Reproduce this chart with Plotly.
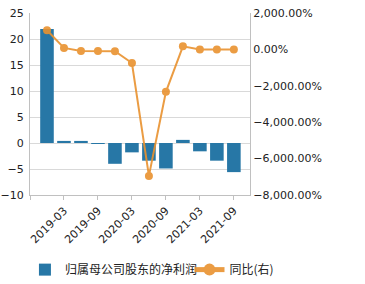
import plotly.graph_objects as go

categories = ["2018-12", "2019-03", "2019-06", "2019-09", "2019-12", "2020-03",
              "2020-06", "2020-09", "2020-12", "2021-03", "2021-06", "2021-09"]
net_profit = [21.9, 0.4, 0.4, -0.1, -4.0, -1.8, -3.4, -4.9, 0.6, -1.6, -3.4, -5.6]
yoy_pct = [1050, 80, -90, -90, -100, -750, -6950, -2330, 170, -10, -10, -10]
tick_labels = ["2019-03", "2019-09", "2020-03", "2020-09", "2021-03", "2021-09"]

idx = list(range(len(categories)))
tick_idx = [idx[categories.index(t)] for t in tick_labels]

font = "DejaVu Sans, Verdana, sans-serif"
cjk = "Noto Sans CJK SC, DejaVu Sans, sans-serif"
grid = "#d9d9d9"
axis_c = "#c0c0c0"

fig = go.Figure()
fig.add_trace(go.Bar(
    x=idx, y=net_profit, name="归属母公司股东的净利润",
    marker=dict(color="#2777a6", line=dict(width=0)),
    width=0.8, yaxis="y", legend="legend",
))
fig.add_trace(go.Scatter(
    x=idx, y=yoy_pct, name="同比(右)", mode="lines+markers",
    line=dict(color="#e9922f", width=2),
    marker=dict(color="#e9922f", size=8),
    opacity=0.9, yaxis="y2", legend="legend2",
))

leg_common = dict(orientation="h", y=-0.41, yanchor="middle",
                  font=dict(family=cjk, size=12, color="#222"),
                  itemsizing="constant", bgcolor="rgba(0,0,0,0)")

fig.update_layout(
    width=365, height=284,
    margin=dict(l=30, r=115, t=13, b=89, autoexpand=False),
    paper_bgcolor="white", plot_bgcolor="white",
    font=dict(family=font, size=11, color="#222"),
    showlegend=True,
    legend=dict(x=-0.023, xanchor="left", **leg_common),
    legend2=dict(x=0.725, xanchor="left", **leg_common),
    bargap=0.2,
    xaxis=dict(
        range=[-1, 11.95], tickmode="array",
        tickvals=[-1] + tick_idx, ticktext=[""] + tick_labels,
        tickangle=-45, ticks="outside", ticklen=4, tickcolor=axis_c,
        showline=True, linecolor=axis_c, linewidth=1,
        showgrid=False, zeroline=False, automargin=False,
        tickfont=dict(family=font, size=11, color="#222"),
    ),
    yaxis=dict(
        range=[-10, 25], dtick=5, tick0=0,
        showgrid=True, gridcolor=grid, gridwidth=1,
        showline=True, linecolor=axis_c, linewidth=1,
        zeroline=False, ticks="", ticklabelstandoff=3, automargin=False,
        tickfont=dict(family=font, size=11, color="#222"),
    ),
    yaxis2=dict(
        range=[-8000, 2000], dtick=2000, tick0=0,
        overlaying="y", side="right",
        tickformat=",.2f", ticksuffix="%",
        showgrid=False, zeroline=False,
        showline=True, linecolor=axis_c, linewidth=1,
        ticks="", automargin=False,
        tickfont=dict(family=font, size=11, color="#222"),
    ),
)

fig.write_html("out.html")
